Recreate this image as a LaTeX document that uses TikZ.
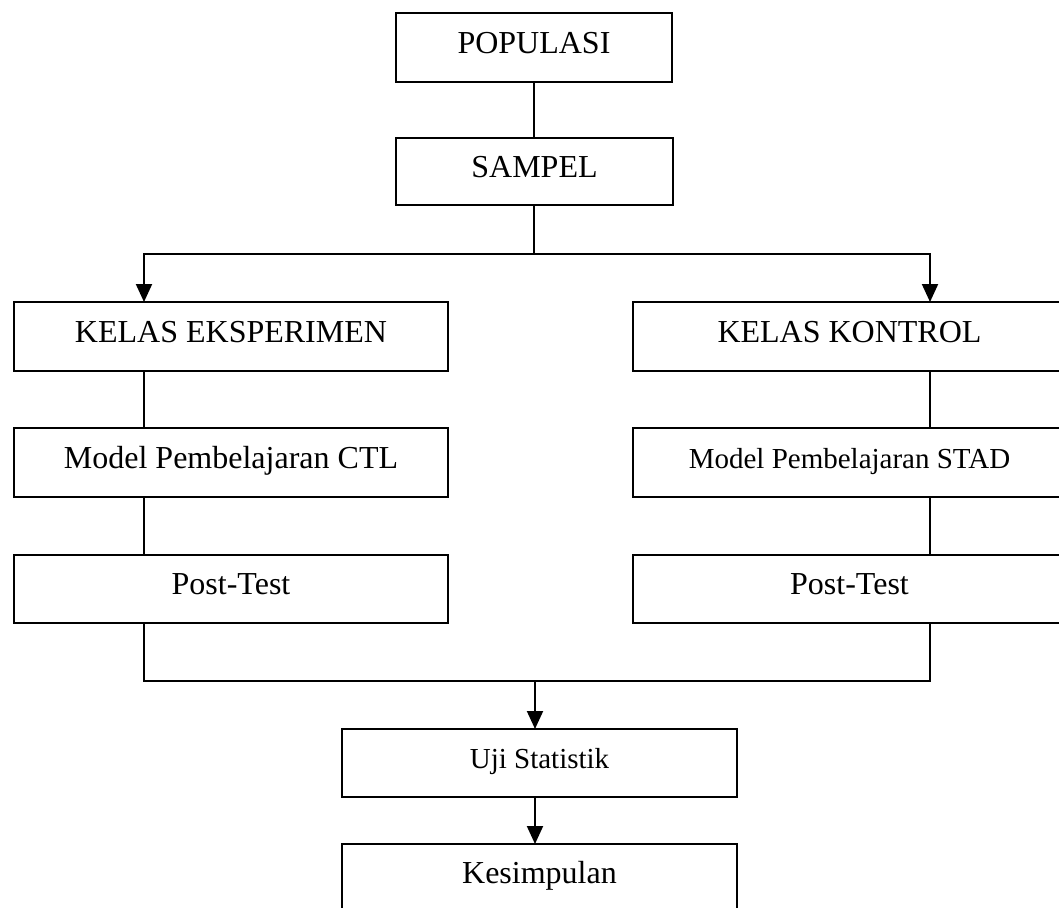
\documentclass[tikz,border=0pt]{standalone}
\usepackage{fontspec}
\setmainfont{Liberation Serif}
\usetikzlibrary{arrows.meta,calc}
\begin{document}
\begin{tikzpicture}[x=1pt,y=-1pt,
  box/.style={draw=black,line width=2pt,inner sep=0pt,outer sep=0pt,
    text height=22pt,text depth=11pt,font=\fontsize{32}{38}\selectfont},
  smallbox/.style={box,font=\fontsize{29}{35}\selectfont},
  conn/.style={line width=2pt,draw=black},
  arr/.style={conn,-{Triangle[length=18pt,width=16pt]}}]
\useasboundingbox (0,0) rectangle (1059,907);
\clip (0,0) rectangle (1059,907);
\node[box,minimum width=276pt,minimum height=69pt] (pop) at (534,47.5) {POPULASI};
\node[box,minimum width=277pt,minimum height=67pt] (sam) at (534.5,171.5) {SAMPEL};
\node[box,minimum width=434pt,minimum height=69pt] (ke) at (231,336.5) {KELAS EKSPERIMEN};
\node[box,minimum width=434pt,minimum height=69pt] (kk) at (849.5,336.5) {KELAS KONTROL};
\node[box,minimum width=434pt,minimum height=69pt] (ctl) at (231,462.5) {Model Pembelajaran CTL};
\node[smallbox,minimum width=434pt,minimum height=69pt] (stad) at (849.5,462.5) {Model Pembelajaran STAD};
\node[box,minimum width=434pt,minimum height=68pt] (pt1) at (231,589) {Post-Test};
\node[box,minimum width=434pt,minimum height=68pt] (pt2) at (849.5,589) {Post-Test};
\node[smallbox,minimum width=395pt,minimum height=68pt] (uji) at (539.5,763) {Uji Statistik};
\node[box,minimum width=395pt,minimum height=68pt] (kes) at (539.5,878) {Kesimpulan};
\coordinate (lx) at (144,0);
\coordinate (rx) at (930,0);
\coordinate (mx) at (535,0);
\coordinate (split) at (534,254);
\coordinate (join) at (535,681);
\draw[conn] (pop.south -| split) -- (sam.north -| split);
\draw[conn] (sam.south -| split) -- (split);
\draw[arr] (split) -| (ke.north -| lx);
\draw[arr] (split) -| (kk.north -| rx);
\draw[conn] (ke.south -| lx) -- (ctl.north -| lx);
\draw[conn] (kk.south -| rx) -- (stad.north -| rx);
\draw[conn] (ctl.south -| lx) -- (pt1.north -| lx);
\draw[conn] (stad.south -| rx) -- (pt2.north -| rx);
\draw[conn] (pt1.south -| lx) |- (join);
\draw[conn] (pt2.south -| rx) |- (join);
\draw[arr] (join) -- (uji.north -| join);
\draw[arr] (uji.south -| join) -- (kes.north -| join);
\end{tikzpicture}
\end{document}
